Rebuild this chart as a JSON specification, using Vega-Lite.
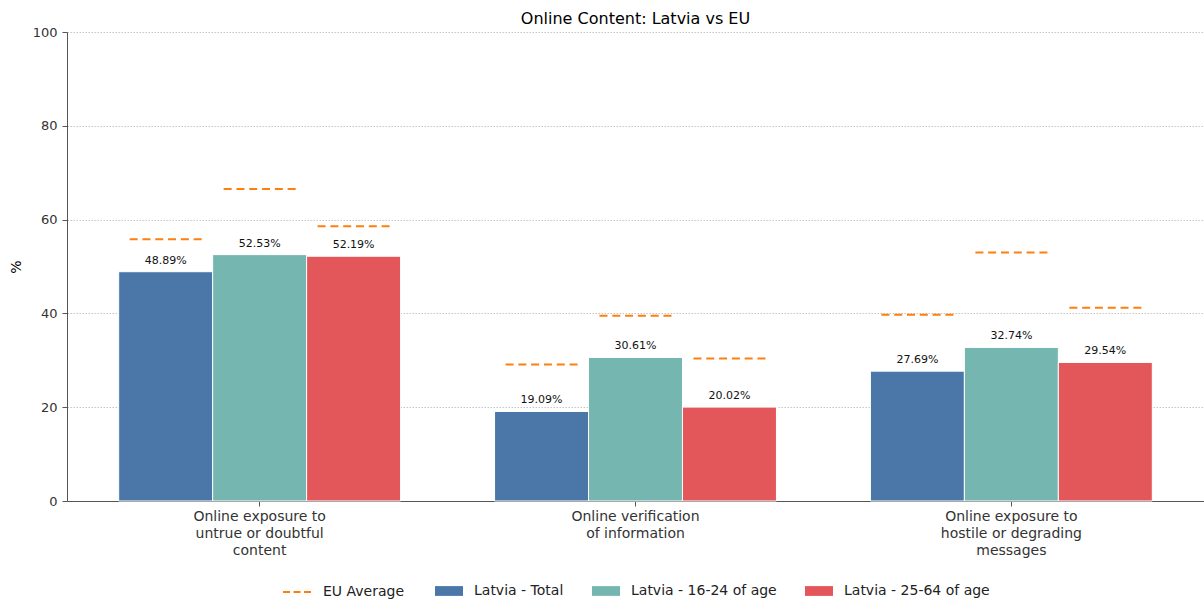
{
  "$schema": "https://vega.github.io/schema/vega-lite/v6.json",
  "autosize": {"type": "none"},
  "padding": {"left": 67, "top": 32, "right": 0, "bottom": 98},
  "width": 1137,
  "height": 469,
  "background": "white",
  "title": {"text": "Online Content: Latvia vs EU", "fontSize": 16, "fontWeight": "normal", "font": "DejaVu Sans", "color": "#000", "offset": -1},
  "data": {"values": [
    {"category": "Online exposure to\nuntrue or doubtful\ncontent", "series": "Latvia - Total", "value": 48.89, "eu": 55.8},
    {"category": "Online exposure to\nuntrue or doubtful\ncontent", "series": "Latvia - 16-24 of age", "value": 52.53, "eu": 66.5},
    {"category": "Online exposure to\nuntrue or doubtful\ncontent", "series": "Latvia - 25-64 of age", "value": 52.19, "eu": 58.6},
    {"category": "Online verification\nof information", "series": "Latvia - Total", "value": 19.09, "eu": 29.1},
    {"category": "Online verification\nof information", "series": "Latvia - 16-24 of age", "value": 30.61, "eu": 39.5},
    {"category": "Online verification\nof information", "series": "Latvia - 25-64 of age", "value": 20.02, "eu": 30.4},
    {"category": "Online exposure to\nhostile or degrading\nmessages", "series": "Latvia - Total", "value": 27.69, "eu": 39.7},
    {"category": "Online exposure to\nhostile or degrading\nmessages", "series": "Latvia - 16-24 of age", "value": 32.74, "eu": 53.0},
    {"category": "Online exposure to\nhostile or degrading\nmessages", "series": "Latvia - 25-64 of age", "value": 29.54, "eu": 41.2}
  ]},
  "encoding": {
    "x": {"field": "category", "type": "nominal", "sort": null,
      "scale": {"paddingInner": 0.25, "paddingOuter": 0.1375},
      "axis": {"title": null, "labelAngle": 0, "labelExpr": "split(datum.label, '\\n')", "labelFontSize": 14, "labelLineHeight": 17, "labelColor": "#333", "labelPadding": 3, "labelBaseline": "top", "tickSize": 5, "tickColor": "#555", "domainColor": "#555", "grid": false, "labelFont": "DejaVu Sans"}},
    "xOffset": {"field": "series", "type": "nominal", "scale": {"domain": ["Latvia - Total", "Latvia - 16-24 of age", "Latvia - 25-64 of age"], "paddingInner": 0, "paddingOuter": 0}}
  },
  "layer": [
    {
      "mark": {"type": "bar", "filled": false, "strokeWidth": 2, "width": 72, "strokeDash": [8, 4.8, 8, 4.8, 8, 4.8, 8, 4.8, 8, 4.8, 8, 72]},
      "encoding": {
        "y": {"field": "eu", "type": "quantitative", "scale": {"domain": [0, 100], "nice": false},
          "axis": {"title": "%", "titleFontSize": 14, "titleFontWeight": "normal", "titleColor": "#000", "titleFont": "DejaVu Sans", "titlePadding": 9, "values": [0, 20, 40, 60, 80, 100], "labelFontSize": 13, "labelColor": "#333", "labelFont": "DejaVu Sans", "labelPadding": 5, "tickSize": 5, "tickColor": "#555", "domainColor": "#555", "gridColor": "#b8b8b8", "gridDash": [1.5, 1.5], "gridWidth": 0.8}},
        "y2": {"field": "eu"},
        "stroke": {"datum": "EU Average", "type": "nominal", "scale": {"domain": ["EU Average"], "range": ["#ff7f0e"]},
          "legend": {"title": null, "orient": "bottom", "direction": "horizontal", "offset": 27,
            "labelFontSize": 14, "labelFont": "DejaVu Sans", "labelColor": "#222",
            "symbolSize": 196, "labelOffset": 25, "symbolType": "M-1,0H3",
            "symbolStrokeWidth": 2, "symbolDash": [7, 3.5], "symbolFillColor": "transparent", "symbolStrokeColor": "#ff7f0e"}}
      }
    },
    {
      "mark": {"type": "bar", "stroke": "white", "strokeWidth": 1, "opacity": 1},
      "encoding": {
        "y": {"field": "value", "type": "quantitative"},
        "fill": {"field": "series", "type": "nominal",
          "scale": {"domain": ["Latvia - Total", "Latvia - 16-24 of age", "Latvia - 25-64 of age"], "range": ["#4a77a8", "#76b6b1", "#e3565a"]},
          "legend": {"title": null, "orient": "bottom", "direction": "horizontal", "offset": 27,
            "labelFontSize": 14, "labelFont": "DejaVu Sans", "labelColor": "#222",
            "symbolSize": 196, "labelOffset": 25, "columnPadding": 28,
            "symbolType": "M-1,-0.7H3V0.7H-1Z", "symbolStrokeWidth": 0, "symbolOpacity": 1}
        }
      }
    },
    {
      "transform": [{"calculate": "format(datum.value, '.2f') + '%'", "as": "label"}],
      "mark": {"type": "text", "font": "DejaVu Sans", "fontSize": 11, "color": "#111", "baseline": "alphabetic", "dy": -8},
      "encoding": {
        "y": {"field": "value", "type": "quantitative"},
        "text": {"field": "label", "type": "nominal"}
      }
    }
  ],
  "config": {
    "view": {"stroke": null},
    "axis": {"domainWidth": 1, "tickWidth": 1},
    "legend": {"layout": {"bottom": {"anchor": "middle", "margin": 30}}}
  }
}
